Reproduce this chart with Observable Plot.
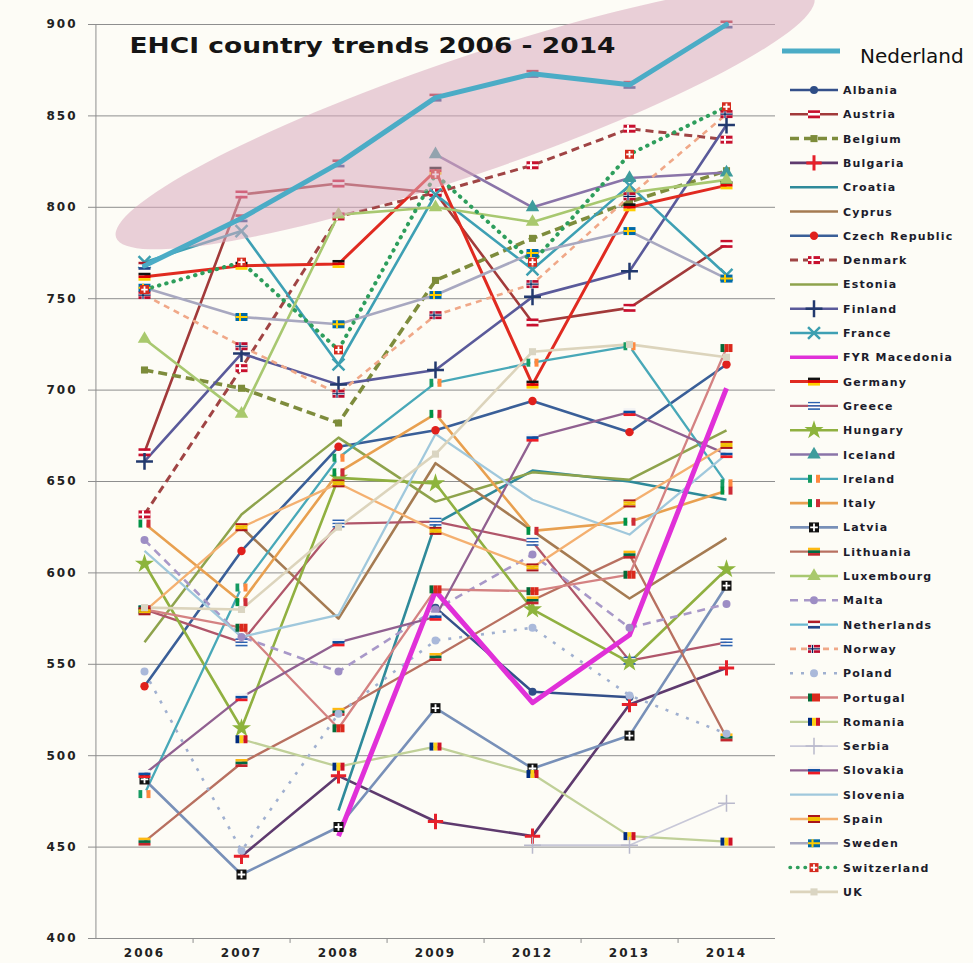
<!DOCTYPE html>
<html>
<head>
<meta charset="utf-8">
<script src="https://cdn.jsdelivr.net/npm/d3@7"></script>
<script src="https://cdn.jsdelivr.net/npm/@observablehq/plot@0.6"></script>
<style>
  body { margin: 0; background: #fdfcf6; }
  #wrap { position: relative; width: 973px; height: 963px; overflow: hidden; background: #fdfcf6; }
  #chart { position: absolute; left: 0; top: 0; }
  #legend { position: absolute; left: 776px; top: 0; }
</style>
</head>
<body>
<div id="wrap"><div id="chart"></div><svg id="legend" width="197" height="963"></svg></div>
<script>
// EHCI scores per country, one value per survey year
const chartTitle = "EHCI country trends 2006 - 2014";
const years = ["2006", "2007", "2008", "2009", "2012", "2013", "2014"];
const yTicks = [400, 450, 500, 550, 600, 650, 700, 750, 800, 850, 900];
const highlightLabel = "Nederland";

const countries = ["Albania", "Austria", "Belgium", "Bulgaria", "Croatia", "Cyprus", "Czech Republic",
  "Denmark", "Estonia", "Finland", "France", "FYR Macedonia", "Germany", "Greece", "Hungary", "Iceland",
  "Ireland", "Italy", "Latvia", "Lithuania", "Luxembourg", "Malta", "Netherlands", "Norway", "Poland",
  "Portugal", "Romania", "Serbia", "Slovakia", "Slovenia", "Spain", "Sweden", "Switzerland", "UK"];

const albania     = [null, null, null, 581, 535, 532, null];
const austria     = [666, 807, 813, 808, 737, 745, 780];
const belgium     = [711, 701, 682, 760, 783, 803, 820];
const bulgaria    = [null, 445, 489, 464, 456, 528, 548];
const croatia     = [null, null, 470, 627, 656, 650, 640];
const cyprus      = [null, 625, 575, 660, 623, 586, 619];
const czech       = [538, 612, 669, 678, 694, 677, 714];
const denmark     = [632, 712, 795, 808, 823, 843, 837];
const estonia     = [562, 632, 674, 639, 655, 651, 678];
const finland     = [661, 720, 703, 711, 751, 765, 845];
const france      = [770, 787, 714, 807, 766, 812, 763];
const macedonia   = [null, null, 456, 590, 529, 566, 701];
const germany     = [762, 768, 769, 820, 703, 800, 812];
const greece      = [580, 562, 627, 628, 617, 552, 562];
const hungary     = [605, 515, 652, 649, 580, 551, 602];
const iceland     = [null, null, null, 829, 800, 816, 819];
const ireland     = [479, 592, 663, 704, 715, 724, 649];
const italy       = [627, 584, 655, 687, 623, 628, 645];
const latvia      = [487, 435, 461, 526, 493, 511, 593];
const lithuania   = [453, 496, 524, 554, 585, 610, 510];
const luxembourg  = [728, 687, 796, 800, 792, 808, 815];
const malta       = [618, 565, 546, 580, 610, 570, 583];
const netherlands = [768, 794, 824, 860, 873, 867, 900];
const norway      = [752, 724, 698, 741, 758, 806, 851];
const poland      = [546, 448, 523, 563, 570, 533, 512];
const portugal    = [580, 570, 515, 591, 590, 599, 723];
const romania     = [null, 509, 494, 505, 490, 456, 453];
const serbia      = [null, null, null, null, 451, 451, 474];
const slovakia    = [490, 532, 562, 576, 674, 688, 665];
const slovenia    = [612, 565, 577, 676, 640, 621, 665];
const spain       = [579, 625, 649, 623, 603, 638, 670];
const sweden      = [756, 740, 736, 752, 775, 787, 761];
const switzerland = [755, 770, 722, 818, 770, 829, 855];
const uk          = [581, 580, 625, 665, 721, 725, 718];

const seriesValues = [albania, austria, belgium, bulgaria, croatia, cyprus, czech, denmark, estonia,
  finland, france, macedonia, germany, greece, hungary, iceland, ireland, italy, latvia, lithuania,
  luxembourg, malta, netherlands, norway, poland, portugal, romania, serbia, slovakia, slovenia, spain,
  sweden, switzerland, uk];

const rows = countries.flatMap((country, i) =>
  years.map((year, j) => ({country, year, value: seriesValues[i][j]}))
).filter(d => d.value != null);

// ---- line styles ----
const lineStyle = {
  "Albania": {stroke: "#34508a", w: 2.5},
  "Austria": {stroke: "#a23a3a", w: 2.6},
  "Belgium": {stroke: "#7e8c3c", w: 3.6, dash: "9,5"},
  "Bulgaria": {stroke: "#5e3a6e", w: 2.6},
  "Croatia": {stroke: "#2f8a9a", w: 2.6},
  "Cyprus": {stroke: "#a57b52", w: 2.6},
  "Czech Republic": {stroke: "#3a5f98", w: 2.6},
  "Denmark": {stroke: "#a04444", w: 3, dash: "8,5"},
  "Estonia": {stroke: "#8ea34c", w: 2.5},
  "Finland": {stroke: "#5a5a9a", w: 2.6},
  "France": {stroke: "#3ea0b4", w: 2.6},
  "FYR Macedonia": {stroke: "#e030d8", w: 5},
  "Germany": {stroke: "#e02a20", w: 3},
  "Greece": {stroke: "#b0566a", w: 2.3},
  "Hungary": {stroke: "#90b040", w: 2.6},
  "Iceland": {stroke: "#8a74a8", w: 2.6},
  "Ireland": {stroke: "#48a8b8", w: 2.3},
  "Italy": {stroke: "#e8a050", w: 2.6},
  "Latvia": {stroke: "#7890b8", w: 2.6},
  "Lithuania": {stroke: "#b87060", w: 2.3},
  "Luxembourg": {stroke: "#a8c870", w: 2.6},
  "Malta": {stroke: "#a898c8", w: 2.6, dash: "8,6"},
  "Netherlands": {stroke: "#6ab8d0", w: 2.3},
  "Norway": {stroke: "#f0a888", w: 2.6, dash: "6,5"},
  "Poland": {stroke: "#a0b0d0", w: 2.6, dash: "3,8"},
  "Portugal": {stroke: "#d48282", w: 2.3},
  "Romania": {stroke: "#c0d098", w: 2.3},
  "Serbia": {stroke: "#c8c8d8", w: 1.8},
  "Slovakia": {stroke: "#906090", w: 2.3},
  "Slovenia": {stroke: "#a0c8dc", w: 2.3},
  "Spain": {stroke: "#f4b070", w: 2.3},
  "Sweden": {stroke: "#a8a8c0", w: 2.6},
  "Switzerland": {stroke: "#2e9e5c", w: 4, dash: "0.5,7", cap: "round"},
  "UK": {stroke: "#dcd4bc", w: 2.6}
};

// ---- point markers: small flags built from stacked rectangles, or plain glyphs ----
const FW = 12, FH = 8;
const box = (x, y, w, h) => ({draw(ctx) { ctx.rect(x, y, w, h); }});
const full = box(-FW / 2, -FH / 2, FW, FH);
const hFlag = (...cols) => cols.map((fill, i) => ({fill, symbol: box(-FW / 2, -FH / 2 + i * FH / cols.length, FW, FH / cols.length)}));
const vFlag = (...cols) => cols.map((fill, i) => ({fill, symbol: box(-FW / 2 + i * FW / cols.length, -FH / 2, FW / cols.length, FH)}));
const nordicCross = t => ({draw(ctx) { ctx.rect(-1.5 - t / 2, -FH / 2, t, FH); ctx.rect(-FW / 2, -t / 2, FW, t); }});
const nordic = (bg, cross) => [{fill: bg, symbol: full}, {fill: cross, symbol: nordicCross(2)}];
const nordic3 = (bg, rim, cross) => [{fill: bg, symbol: full}, {fill: rim, symbol: nordicCross(2.6)}, {fill: cross, symbol: nordicCross(1.2)}];
const centred = (bg, cross, s) => [
  {fill: bg, symbol: box(-s / 2, -s / 2, s, s)},
  {fill: cross, symbol: {draw(ctx) { ctx.rect(-0.9, -s / 2 + 1.2, 1.8, s - 2.4); ctx.rect(-s / 2 + 1.2, -0.9, s - 2.4, 1.8); }}}
];
const glyph = (symbol, opts) => [{symbol, ...opts}];

const markerStyle = {
  "Albania": glyph("circle", {fill: "#2f4d86", r: 4}),
  "Austria": hFlag("#c8102e", "#ffffff", "#c8102e"),
  "Belgium": glyph("square", {fill: "#7d8c3a", r: 4}),
  "Bulgaria": glyph("plus", {stroke: "#e5202a", strokeWidth: 3, r: 5}),
  "Czech Republic": glyph("circle", {fill: "#e0201c", r: 4.2}),
  "Denmark": nordic("#c8102e", "#ffffff"),
  "Finland": glyph("plus", {stroke: "#22396e", strokeWidth: 2.5, r: 5.5}),
  "France": glyph("times", {stroke: "#3d9fb0", strokeWidth: 2.5, r: 5.5}),
  "Germany": hFlag("#111111", "#dd0000", "#ffce00"),
  "Greece": hFlag("#2c62b0", "#ffffff", "#2c62b0", "#ffffff", "#2c62b0"),
  "Hungary": glyph("star", {fill: "#8db43c", r: 6}),
  "Iceland": glyph("triangle", {fill: "#3e9c9c", r: 5}),
  "Ireland": vFlag("#169b62", "#ffffff", "#ff883e"),
  "Italy": vFlag("#009246", "#ffffff", "#ce2b37"),
  "Latvia": centred("#111111", "#ffffff", 10),
  "Lithuania": hFlag("#fdb913", "#006a44", "#c1272d"),
  "Luxembourg": glyph("triangle", {fill: "#a9c96d", r: 5}),
  "Malta": glyph("circle", {fill: "#9d8dc4", r: 4}),
  "Netherlands": hFlag("#ae1c28", "#ffffff", "#21468b"),
  "Norway": nordic3("#ba0c2f", "#ffffff", "#00205b"),
  "Poland": glyph("circle", {fill: "#aab9da", r: 4}),
  "Portugal": vFlag("#046a38", "#da291c", "#da291c"),
  "Romania": vFlag("#002b7f", "#fcd116", "#ce1126"),
  "Serbia": glyph("plus", {stroke: "#b9b9cc", strokeWidth: 1.5, r: 5.5}),
  "Slovakia": hFlag("#f4f4f4", "#0b4ea2", "#ee1c25"),
  "Spain": hFlag("#aa151b", "#f1bf00", "#f1bf00", "#aa151b"),
  "Sweden": nordic("#006aa7", "#fecc00"),
  "Switzerland": centred("#d52b1e", "#ffffff", 9),
  "UK": glyph("square", {fill: "#dad5c2", r: 4})
};

// ---- chart ----
const W = 776, ML = 95, MR = 1;
const step = (W - ML - MR) / years.length;
const grey = "#8e8e8e";
const nedColor = "#4bacc6";
const axisFont = {fontFamily: "DejaVu Sans", fontWeight: "bold", fontSize: 12, fill: "#222"};

const byCountry = c => rows.filter(d => d.country === c);
const lineMark = c => {
  const s = lineStyle[c];
  return Plot.line(byCountry(c), {
    x: "year", y: "value", stroke: s.stroke, strokeWidth: s.w,
    strokeDasharray: s.dash, strokeLinecap: s.cap ?? "butt", strokeLinejoin: "round"
  });
};
const markerMarks = c => (markerStyle[c] ?? []).map(l => Plot.dot(byCountry(c), {
  x: "year", y: "value", symbol: l.symbol, r: l.r ?? 5,
  fill: l.fill ?? "none", stroke: l.stroke ?? "none", strokeWidth: l.strokeWidth ?? 1
}));

const chart = Plot.plot({
  width: W, height: 963,
  marginLeft: ML, marginRight: MR, marginTop: 24, marginBottom: 25,
  style: {background: "transparent", fontFamily: "DejaVu Sans", overflow: "visible"},
  x: {type: "point", domain: years, label: null},
  y: {domain: [400, 900], label: null},
  marks: [
    Plot.gridY({ticks: yTicks.filter(v => v > 400), stroke: grey, strokeOpacity: 1}),
    Plot.ruleY([400], {stroke: grey}),
    Plot.ruleX([years[0]], {dx: -step / 2, y1: 400, y2: 900, stroke: grey}),
    Plot.ruleX(years.slice(0, -1), {dx: step / 2, y1: 400, y2: 397.3, stroke: grey}),
    Plot.axisY({ticks: yTicks, tickSize: 7, tickPadding: 11, stroke: grey, ...axisFont}),
    Plot.axisX({tickSize: 0, tickPadding: 10, ...axisFont}),
    ...countries.filter(c => c !== "FYR Macedonia").map(lineMark),
    lineMark("FYR Macedonia"),
    ...countries.flatMap(markerMarks),
    Plot.line(byCountry("Netherlands"), {x: "year", y: "value", stroke: nedColor, strokeWidth: 5,
      strokeLinejoin: "round"}),
    Plot.text([chartTitle], {frameAnchor: "top-left", lineAnchor: "top", textAnchor: "start",
      dx: 34, dy: 14, fontSize: 20.5, fontWeight: "bold", fontFamily: "DejaVu Sans", fill: "#151515"})
  ]
});
document.getElementById("chart").append(chart);

// wide lettering for the axis labels and title
const svg = d3.select(chart);
svg.selectAll('g[aria-label="y-axis tick label"] text, g[aria-label="x-axis tick label"] text')
  .attr("letter-spacing", 2);
svg.selectAll("text").filter(function () { return this.textContent === chartTitle; })
  .attr("textLength", 486).attr("lengthAdjust", "spacingAndGlyphs");

// translucent highlight band around the leading series, placed under its thick line
const X = chart.scale("x"), Y = chart.scale("y");
const cx = X.apply("2009") + 0.31 * step, cy = Y.apply(849);
const nedNode = svg.selectAll("g").filter(function () {
  return this.getAttribute("stroke") === nedColor && this.getAttribute("stroke-width") === "5";
}).node();
const ell = document.createElementNS("http://www.w3.org/2000/svg", "ellipse");
ell.setAttribute("cx", cx);
ell.setAttribute("cy", cy);
ell.setAttribute("rx", 3.8 * step);
ell.setAttribute("ry", Y.apply(900 - 31.7) - Y.apply(900));
ell.setAttribute("transform", `rotate(-19 ${cx} ${cy})`);
ell.setAttribute("fill", "#d9a9be");
ell.setAttribute("fill-opacity", 0.55);
if (nedNode) nedNode.parentNode.insertBefore(ell, nedNode);
else chart.appendChild(ell);

// ---- legend ----
const symbolTypes = {circle: d3.symbolCircle, plus: d3.symbolPlus, times: d3.symbolTimes,
  triangle: d3.symbolTriangle, star: d3.symbolStar, square: d3.symbolSquare};
const lg = d3.select("#legend");
lg.append("line").attr("x1", 6).attr("x2", 64).attr("y1", 51).attr("y2", 51)
  .attr("stroke", nedColor).attr("stroke-width", 5);
lg.append("text").attr("x", 84).attr("y", 63).text(highlightLabel)
  .attr("font-family", "DejaVu Sans").attr("font-size", 20).attr("fill", "#111");

countries.forEach((c, i) => {
  const s = lineStyle[c];
  const g = lg.append("g").attr("transform", `translate(0,${90 + i * 24.3})`);
  g.append("line").attr("x1", 14).attr("x2", 62).attr("y1", 0).attr("y2", 0)
    .attr("stroke", s.stroke).attr("stroke-width", Math.min(s.w, 3.5))
    .attr("stroke-dasharray", s.dash ?? null).attr("stroke-linecap", s.cap ?? "butt");
  (markerStyle[c] ?? []).forEach(l => {
    const type = typeof l.symbol === "string" ? symbolTypes[l.symbol] : l.symbol;
    const r = l.r ?? 5;
    g.append("path").attr("transform", "translate(38,0)")
      .attr("d", d3.symbol(type, r * r * Math.PI)())
      .attr("fill", l.fill ?? "none").attr("stroke", l.stroke ?? "none")
      .attr("stroke-width", l.strokeWidth ?? 1);
  });
  g.append("text").attr("x", 67).attr("y", 4).text(c)
    .attr("font-family", "DejaVu Sans").attr("font-weight", "bold").attr("font-size", 11)
    .attr("letter-spacing", 1.2).attr("fill", "#1c1c2c");
});
</script>
</body>
</html>
